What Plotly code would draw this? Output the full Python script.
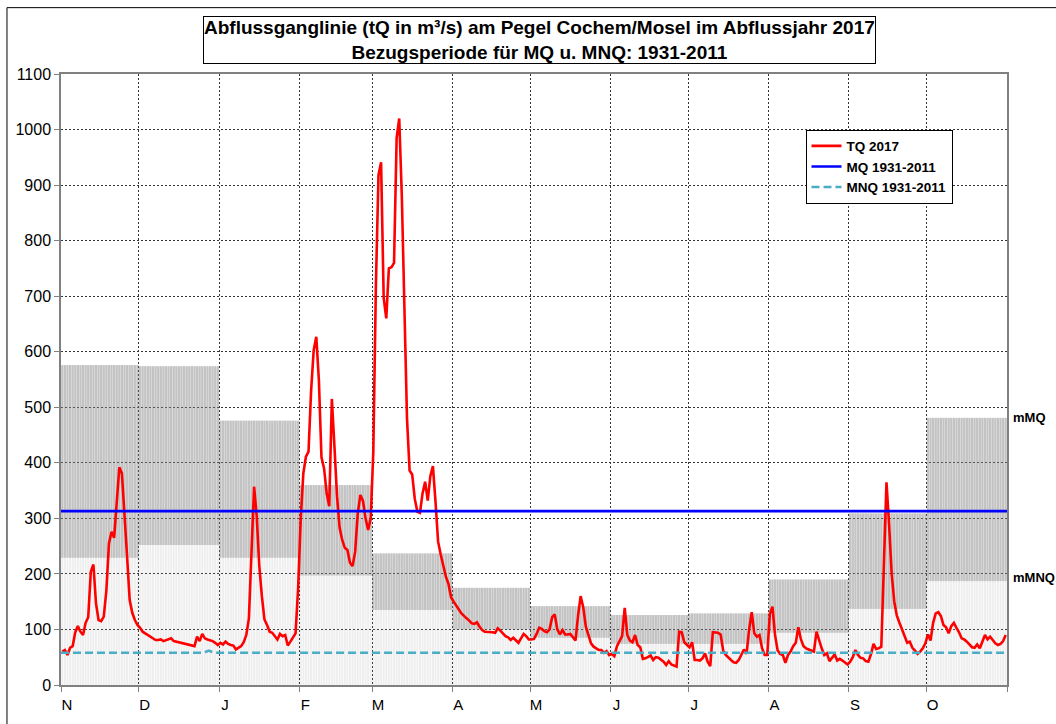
import numpy as np
import plotly.graph_objects as go

# hydrological year 2017: Nov 2016 .. Oct 2017
MONTHS = ["N", "D", "J", "F", "M", "A", "M", "J", "J", "A", "S", "O"]
MONTH_DAYS = [30, 31, 31, 28, 31, 30, 31, 30, 31, 31, 30, 31]

# monthly means 1931-2011
MMQ = [576, 574, 476, 360, 237, 175, 142, 126, 129, 190, 309, 481]
MMNQ = [229, 252, 229, 197, 135, 100, 85, 74, 74, 94, 137, 187]

MQ = 313
MNQ_DAY = [0, 55, 57, 59, 365]
MNQ_VAL = [58, 58, 62, 58, 58]

# daily discharge TQ 2017 (m³/s)
TQ_NOV = [60, 63, 54, 67, 70, 95, 106, 96, 90, 112, 122, 204, 217, 147, 117,
          115, 123, 170, 255, 276, 265, 333, 392, 381, 315, 231, 153, 130, 117, 108]
TQ_DEC = [103, 96, 93, 90, 86, 83, 81, 81, 82, 79, 81, 82, 84, 79, 78, 76,
          76, 75, 74, 73, 71, 70, 87, 79, 92, 84, 82, 81, 79, 76, 72]
TQ_JAN = [76, 73, 78, 74, 72, 71, 64, 67, 70, 77, 90, 120, 235, 357, 305, 215,
          160, 118, 108, 96, 94, 88, 82, 92, 88, 90, 71, 78, 86, 93, 175]
TQ_FEB = [300, 381, 411, 420, 530, 603, 627, 549, 410, 390, 345, 322, 515, 430,
          340, 283, 261, 247, 243, 220, 214, 240, 309, 342, 332, 300, 279, 300]
TQ_MAR = [420, 720, 918, 941, 697, 660, 750, 752, 760, 985, 1020, 880, 650, 480,
          386, 379, 335, 312, 310, 345, 366, 332, 376, 394, 330, 258, 235, 215,
          195, 182, 158]
TQ_APR = [150, 142, 136, 129, 124, 120, 116, 111, 110, 113, 105, 99, 96, 96, 95,
          95, 94, 102, 98, 92, 88, 86, 81, 85, 80, 76, 84, 92, 88, 82]
TQ_MAY = [82, 83, 92, 103, 101, 97, 95, 100, 122, 127, 100, 91, 99, 91, 91, 92,
          86, 80, 125, 160, 140, 105, 90, 75, 69, 66, 63, 63, 58, 61, 54]
TQ_JUN = [56, 52, 70, 80, 88, 139, 90, 80, 77, 90, 72, 68, 47, 48, 51, 53, 45,
          50, 49, 45, 42, 36, 43, 37, 35, 33, 96, 95, 77, 73]
TQ_JUL = [68, 77, 45, 45, 44, 48, 57, 42, 34, 95, 94, 94, 91, 62, 54, 49, 45,
          41, 40, 45, 55, 64, 56, 100, 131, 93, 87, 90, 66, 54, 54]
TQ_AUG = [128, 141, 90, 62, 56, 54, 40, 54, 60, 70, 76, 104, 82, 70, 66, 64, 62,
          60, 96, 80, 66, 54, 57, 43, 48, 55, 44, 47, 44, 40, 37]
TQ_SEP = [42, 50, 63, 54, 49, 48, 43, 42, 55, 74, 65, 66, 69, 215, 365, 290, 200,
          150, 125, 112, 100, 86, 76, 78, 67, 62, 56, 60, 66, 75]
TQ_OCT = [91, 80, 112, 129, 131, 124, 108, 104, 93, 106, 112, 103, 95, 84, 82, 78,
          72, 68, 67, 73, 66, 79, 90, 82, 87, 81, 75, 72, 74, 79, 90]

FONT = "Arial, Liberation Sans, sans-serif"

tq = np.concatenate([TQ_NOV, TQ_DEC, TQ_JAN, TQ_FEB, TQ_MAR, TQ_APR,
                     TQ_MAY, TQ_JUN, TQ_JUL, TQ_AUG, TQ_SEP, TQ_OCT])
n_days = int(np.sum(MONTH_DAYS))
days = np.arange(n_days) + 0.5
month_start = np.concatenate([[0], np.cumsum(MONTH_DAYS)])

mmq_d = np.repeat(MMQ, MONTH_DAYS)
mmnq_d = np.repeat(MMNQ, MONTH_DAYS)

fig = go.Figure()

# daily columns: 0..mMNQ light, mMNQ..mMQ gray
fig.add_trace(go.Bar(
    x=days, y=mmnq_d, width=0.75,
    marker=dict(color="rgba(170,170,170,0.2)", line_width=0),
    showlegend=False, hoverinfo="skip",
))
fig.add_trace(go.Bar(
    x=days, y=mmq_d - mmnq_d, base=mmnq_d, width=0.88,
    marker=dict(color="rgba(135,135,135,0.5)", line_width=0),
    showlegend=False, hoverinfo="skip",
))

fig.add_trace(go.Scatter(
    x=days, y=tq, mode="lines", name="TQ 2017",
    line=dict(color="#ff0000", width=2.6),
))
fig.add_trace(go.Scatter(
    x=[0, n_days], y=[MQ, MQ], mode="lines", name="MQ 1931-2011",
    line=dict(color="#0000ff", width=2.6),
))
fig.add_trace(go.Scatter(
    x=MNQ_DAY, y=MNQ_VAL, mode="lines", name="MNQ 1931-2011",
    line=dict(color="#4bacc6", width=2.6, dash="8px,4px"),
))

axis_common = dict(
    showgrid=True, gridcolor="#333333", griddash="2px,2px", gridwidth=1,
    showline=True, linecolor="#808080", linewidth=1.5, mirror=True,
    ticks="outside", ticklen=5, tickcolor="#808080", zeroline=False,
)

fig.update_layout(
    width=1056, height=724,
    margin=dict(l=61, r=49, t=74, b=39),
    paper_bgcolor="white", plot_bgcolor="white",
    barmode="overlay",
    font=dict(family=FONT, color="#000000"),
    xaxis=dict(
        range=[0, n_days], tickvals=month_start, ticktext=MONTHS + [""],
        ticklabelshift=6, tickfont=dict(family=FONT, size=15, color="#000000"),
        **axis_common,
    ),
    yaxis=dict(
        range=[0, 1100], dtick=100,
        tickfont=dict(family=FONT, size=16, color="#000000"),
        **axis_common,
    ),
    legend=dict(
        x=0.787, y=0.909, xanchor="left", yanchor="top",
        bordercolor="#000000", borderwidth=1, bgcolor="white",
        font=dict(family=FONT, size=13.5, weight="bold"),
        tracegroupgap=0,
    ),
    showlegend=True,
)

fig.add_annotation(
    xref="paper", yref="paper", x=0.506, y=1.055,
    xanchor="center", yanchor="middle", showarrow=False,
    text="<b>Abflussganglinie (tQ in m³/s) am Pegel Cochem/Mosel im Abflussjahr 2017</b>"
         "<br><b>Bezugsperiode für MQ u. MNQ: 1931-2011</b>",
    font=dict(family=FONT, size=19), align="center",
    bordercolor="#000000", borderwidth=1, borderpad=0, bgcolor="white",
)
fig.add_annotation(
    xref="paper", yref="y", x=1.004, y=MMQ[-1], xanchor="left",
    text="<b>mMQ</b>", showarrow=False, font=dict(family=FONT, size=13),
)
fig.add_annotation(
    xref="paper", yref="y", x=1.004, y=MMNQ[-1], yshift=4, xanchor="left",
    text="<b>mMNQ</b>", showarrow=False, font=dict(family=FONT, size=13),
)

# outer chart frame
fig.add_shape(
    type="rect", xref="paper", yref="paper",
    x0=-0.0571, x1=1.2, y0=-0.2, y1=1.1086,
    line=dict(color="#000000", width=1), fillcolor="rgba(0,0,0,0)",
)

fig.write_html(
    "out.html",
    config={"displayModeBar": False},
    post_script="document.body.style.margin='0';",
)
